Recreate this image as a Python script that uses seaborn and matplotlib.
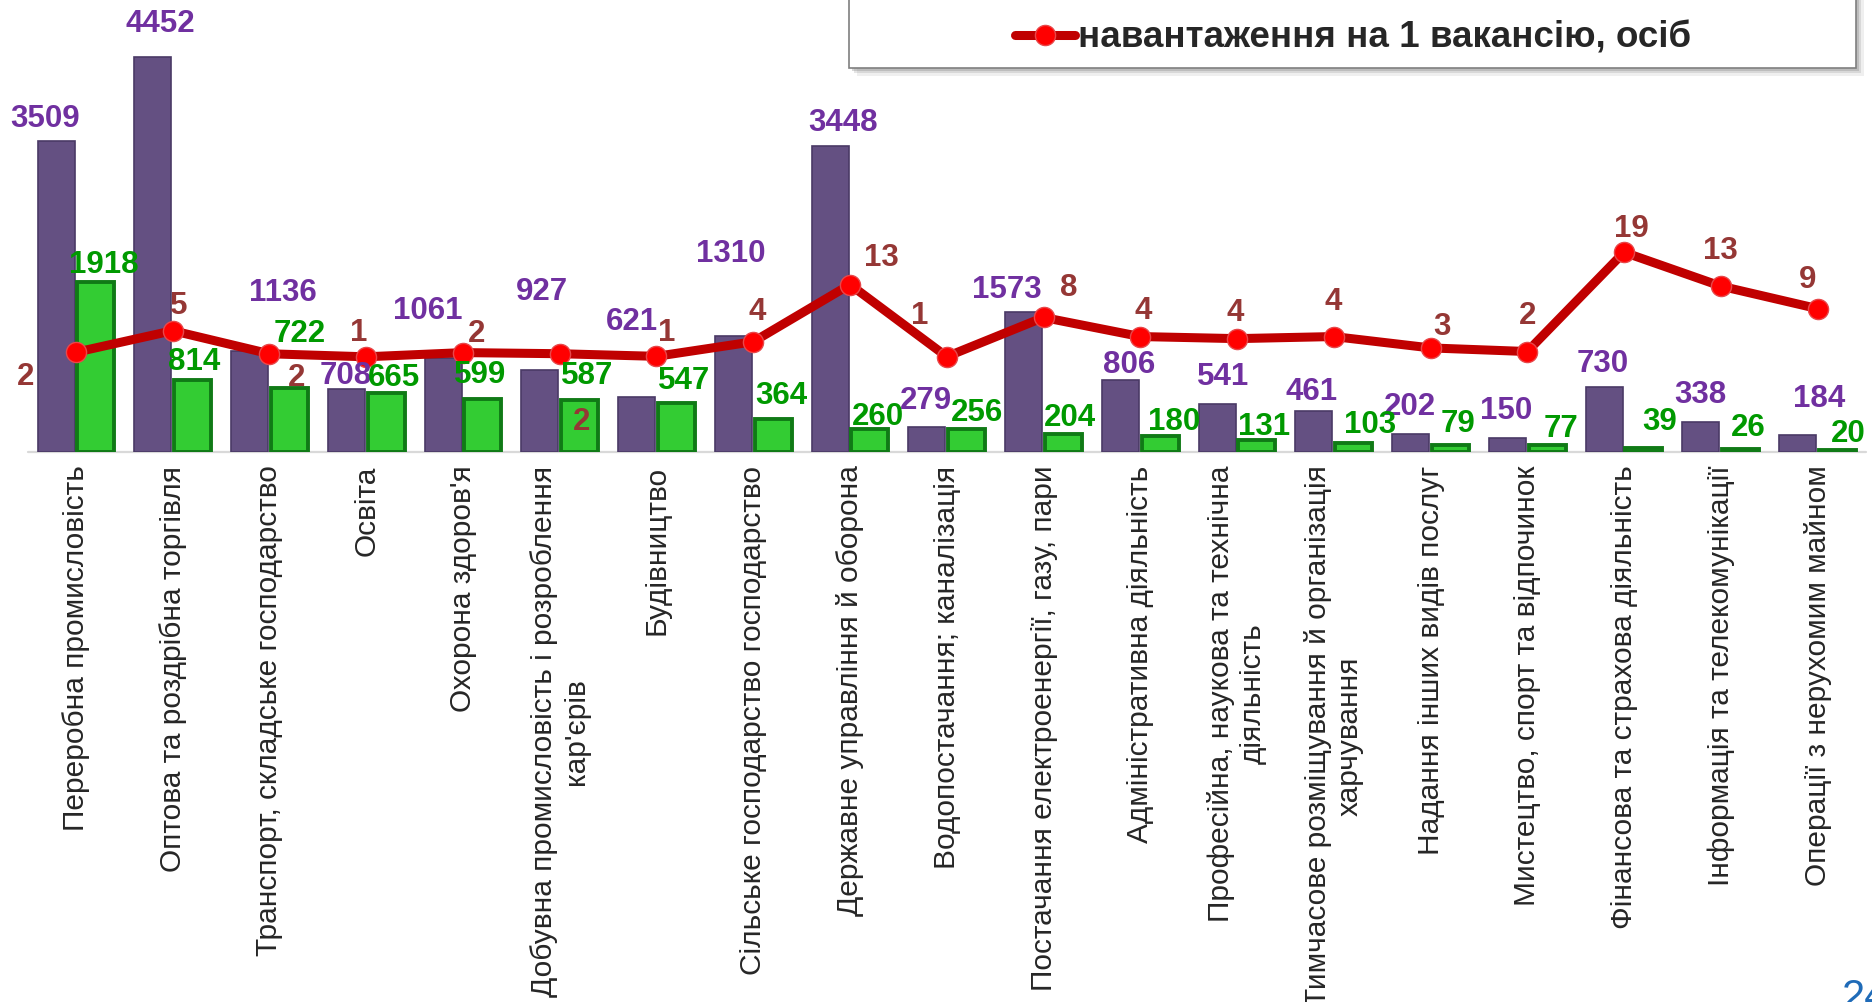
import matplotlib
matplotlib.use("Agg")
import matplotlib.pyplot as plt
from matplotlib.patches import Rectangle
from matplotlib.lines import Line2D
import pandas as pd
import seaborn as sns

categories = [
    "Переробна промисловість",
    "Оптова та роздрібна торгівля",
    "Транспорт, складське господарство",
    "Освіта",
    "Охорона здоров'я",
    "Добувна промисловість і розроблення\nкар'єрів",
    "Будівництво",
    "Сільське господарство господарство",
    "Державне управління й оборона",
    "Водопостачання; каналізація",
    "Постачання електроенергії, газу, пари",
    "Адміністративна діяльність",
    "Професійна, наукова та технічна\nдіяльність",
    "Тимчасове розміщування й організація\nхарчування",
    "Надання інших видів послуг",
    "Мистецтво, спорт та відпочинок",
    "Фінансова та страхова діяльність",
    "Інформація та телекомунікації",
    "Операції з нерухомим майном",
]
unemployed = [3509, 4452, 1136, 708, 1061, 927, 621, 1310, 3448, 279,
              1573, 806, 541, 461, 202, 150, 730, 338, 184]
vacancies = [1918, 814, 722, 665, 599, 587, 547, 364, 260, 256,
             204, 180, 131, 103, 79, 77, 39, 26, 20]
load_per_vacancy = [1.83, 5.47, 1.57, 1.06, 1.77, 1.58, 1.14, 3.60, 13.26, 1.09,
                    7.71, 4.48, 4.13, 4.48, 2.56, 1.95, 18.72, 13.00, 9.20]
legend_label = "навантаження на 1 вакансію, осіб"

# hand placed data labels, offsets in pixels from the bar top / line point
unemp_offsets = [(-11, 25), (7, 36), (33, 61), (-1, 16), (-15, 50), (2, 81), (-5, 78),
                 (-3, 85), (13, 26), (-1, 29), (-17, 25), (9, 18), (6, 30), (-2, 22),
                 (-1, 30), (-1, 30), (-1, 26), (-1, 30), (21, 39)]
vac_offsets = [(8, 20), (2, 21), (10, 57), (8, 18), (-3, 27), (8, 27), (8, 25), (8, 26),
               (8, 15), (10, 19), (7, 19), (14, 17), (7, 16), (16, 21), (8, 24), (14, 19),
               (16, 29), (8, 24), (11, 19)]
load_offsets = [(-50, -22), (6, 28), (27, -21), (-8, 27), (14, 22), (22, -65), (10, 26),
                (4, 33), (31, 30), (-27, 44), (25, 32), (3, 29), (-2, 29), (-1, 38),
                (11, 24), (0, 39), (7, 26), (0, 38), (-10, 32)]

PURPLE = "#645082"
PURPLE_EDGE = "#4A3A66"
GREEN = "#33CC33"
GREEN_EDGE = "#107A16"
LINE_RED = "#C00000"
PURPLE_TXT = "#7030A0"
GREEN_TXT = "#009900"
RED_TXT = "#953735"

sns.set_style("white")
plt.rcParams["font.family"] = ["Liberation Sans", "DejaVu Sans"]

W, H = 1872, 1002
fig = plt.figure(figsize=(W / 100, H / 100), dpi=100)


def fx(x):
    return x / W


def fy(y):
    return 1 - y / H


ax = fig.add_axes([fx(27.6), fy(451.7), (1865.9 - 27.6) / W, 451.7 / H])

df = pd.DataFrame({
    "category": categories * 2,
    "value": unemployed + vacancies,
    "series": ["безробітні"] * len(categories) + ["вакансії"] * len(categories),
})
sns.barplot(data=df, x="category", y="value", hue="series", order=categories,
            palette=[PURPLE, GREEN], saturation=1, width=0.82, gap=0.07,
            errorbar=None, legend=False, ax=ax)
for bar in ax.containers[0]:
    bar.set_edgecolor(PURPLE_EDGE)
    bar.set_linewidth(1.2)
for bar in ax.containers[1]:
    bar.set_edgecolor(GREEN_EDGE)
    bar.set_linewidth(2.8)

ax.axhline(0, color="#D9D9D9", lw=1.6, zorder=0.5, clip_on=False)
ax.set_xlim(-0.5, 18.5)
ax.set_ylim(0, 5098)
ax.set_yticks([])
ax.set_xlabel("")
ax.set_ylabel("")
ax.set_xticks(range(len(categories)))
ax.set_xticklabels(categories, rotation=90, fontsize=21.5, va="top", ha="center",
                   multialignment="center")
ax.tick_params(axis="x", length=0, pad=10)
sns.despine(ax=ax, left=True, bottom=True)

ax2 = ax.twinx()
sns.lineplot(x=list(range(len(categories))), y=load_per_vacancy, ax=ax2,
             color=LINE_RED, lw=6.5, marker="o", markersize=14.5,
             markerfacecolor="#FF0000", markeredgecolor="#E8474A", markeredgewidth=1)
ax2.set_ylim(-14.97, 61.33)
ax2.set_xlim(-0.5, 18.5)
ax2.set_yticks([])
ax2.set_ylabel("")
for s in ax2.spines.values():
    s.set_visible(False)

# data labels, baseline alignment shifted so digits sit centred on the offset
half = 11
lab = dict(textcoords="offset pixels", ha="center", va="baseline",
           fontsize=22.5, fontweight="bold", annotation_clip=False)
for i, v in enumerate(unemployed):
    dx, dy = unemp_offsets[i]
    ax2.annotate(str(v), xy=(i - 0.205, v), xycoords=ax.transData,
                 xytext=(dx, dy - half), color=PURPLE_TXT, **lab)
for i, v in enumerate(vacancies):
    dx, dy = vac_offsets[i]
    ax2.annotate(str(v), xy=(i + 0.205, v), xycoords=ax.transData,
                 xytext=(dx, dy - half), color=GREEN_TXT, **lab)
for i, r in enumerate(load_per_vacancy):
    dx, dy = load_offsets[i]
    ax2.annotate(f"{r:.0f}", xy=(i, r), xytext=(dx, dy - half), color=RED_TXT, **lab)

# legend box with shadow at the top right
for off, a in [(8, 0.12), (5, 0.2), (3, 0.3)]:
    fig.add_artist(Rectangle((fx(848.7 + off), fy(67.7 + off)), 1007 / W, 100 / H,
                             transform=fig.transFigure, facecolor="#808080",
                             edgecolor="none", alpha=a, zorder=5))
fig.add_artist(Rectangle((fx(848.7), fy(67.7)), 1007 / W, 100 / H,
                         transform=fig.transFigure, facecolor="white",
                         edgecolor="#7F7F7F", lw=1.2, zorder=6))
handle = Line2D([], [], color=LINE_RED, lw=6.5, marker="o", markersize=14.5,
                markerfacecolor="#FF0000", markeredgecolor="#E8474A", markeredgewidth=1)
leg = fig.legend([handle], [legend_label], loc="center",
                 bbox_to_anchor=(fx(1353), fy(38)), frameon=False,
                 prop={"weight": "bold", "size": 26.5}, handlelength=1.63,
                 handletextpad=0.1, borderpad=0)
leg.set_zorder(7)

fig.text(fx(1842), fy(978), "24", color="#1F6BB8", fontsize=30, ha="left", va="top")

fig.savefig("out.png", dpi=100)
